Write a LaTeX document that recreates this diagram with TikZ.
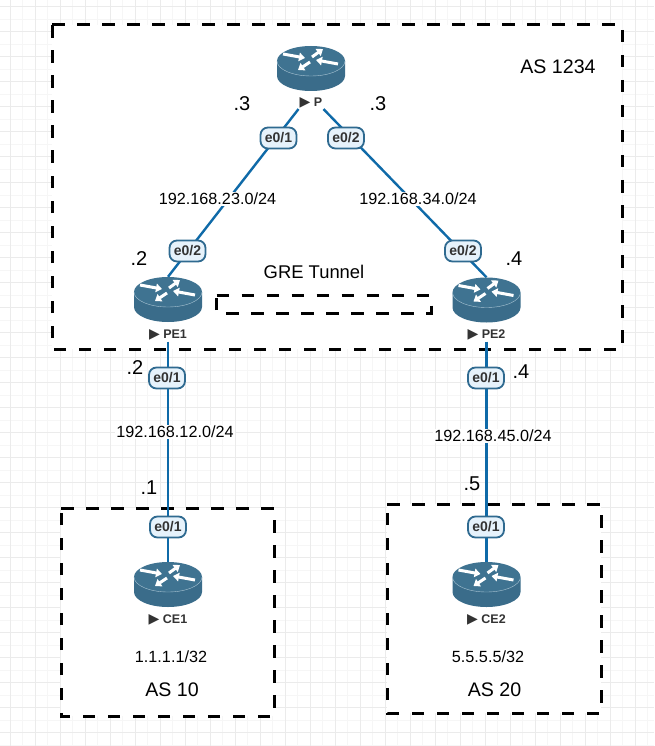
\documentclass[tikz,border=0pt]{standalone}
\usepackage{fontspec}
\setmainfont{Liberation Sans}
\newfontfamily\symfont{DejaVu Sans}
\usetikzlibrary{arrows.meta,backgrounds}
\definecolor{linkblue}{HTML}{0F6AA8}
\definecolor{routerblue}{HTML}{3F7391}
\definecolor{routerdark}{HTML}{3A6C8A}
\definecolor{routerrim}{HTML}{A9C4D3}
\definecolor{pillfill}{HTML}{E6F2FB}
\definecolor{pillline}{HTML}{2F6A90}
\definecolor{gridmajor}{HTML}{EBEBEB}
\definecolor{gridminor}{HTML}{F6F6F6}
\definecolor{labelgray}{HTML}{333333}
\newcommand{\routericon}[1]{%
  \begin{scope}[shift={(#1)}]
    \fill[routerdark] (-34,-8) -- (-34,7) arc[start angle=180,end angle=360,x radius=34pt,y radius=15pt] -- (34,-8) -- cycle;
    \fill[routerblue] (0,-8) ellipse [x radius=34pt, y radius=15pt];
    \draw[routerrim, thin] (-34,-8) arc[start angle=180,end angle=360,x radius=34pt,y radius=15pt];
    \draw[rarrow] (-28,-15)--(-6,-11);
    \draw[rarrow] (1,-12)--(12,-20);
    \draw[rarrow] (-1,-7)--(-13,1);
    \draw[rarrow] (27,-5)--(5,-9);
  \end{scope}}
\begin{document}
\begin{tikzpicture}[x=1pt,y=-1pt]
  \tikzstyle{router} = [minimum width=68pt, minimum height=46pt, inner sep=0pt]
  \tikzstyle{rlabel} = [font=\fontsize{12.5}{14}\bfseries\selectfont, text=labelgray, inner sep=1pt]
  \tikzstyle{rarrow} = [white, line width=3pt, -{Triangle[width=8.5pt,length=6pt]}]
  \tikzstyle{port} = [draw=pillline, line width=1.8pt, fill=pillfill, rounded corners=7.5pt, minimum width=36pt, minimum height=21pt, inner sep=0pt, text=labelgray, font=\fontsize{14}{15}\bfseries\selectfont]
  \tikzstyle{subnet} = [fill=white, inner sep=1.5pt, font=\fontsize{16.2}{18}\selectfont]
  \tikzstyle{addr} = [inner sep=1pt, font=\fontsize{20}{22}\selectfont]
  \tikzstyle{aslabel} = [inner sep=1pt, font=\fontsize{19.6}{22}\selectfont]
  \tikzstyle{link} = [linkblue, line width=2.4pt]
  \tikzstyle{asbox} = [black, fill=white, line width=3pt, dash pattern=on 12.5pt off 12.5pt]
  \tikzstyle{gmajor} = [gridmajor, line width=1pt]
  \tikzstyle{gminor} = [gridminor, line width=1pt]

  \useasboundingbox (0,0) rectangle (654,746);

  % routers
  \node[router] (P) at (311,69) {};
  \node[router] (PE1) at (168,300) {};
  \node[router] (PE2) at (486.5,300.5) {};
  \node[router] (CE1) at (168,585) {};
  \node[router] (CE2) at (486.5,585) {};

  \node[rlabel] (Plab) at (311,102.5) {{\symfont\fontsize{14}{14}\selectfont ▶} P};
  \node[rlabel] (PE1lab) at (168,335) {{\symfont\fontsize{14}{14}\selectfont ▶} PE1};
  \node[rlabel] (PE2lab) at (486.5,335) {{\symfont\fontsize{14}{14}\selectfont ▶} PE2};
  \node[rlabel] (CE1lab) at (168,620) {{\symfont\fontsize{14}{14}\selectfont ▶} CE1};
  \node[rlabel] (CE2lab) at (486.5,620) {{\symfont\fontsize{14}{14}\selectfont ▶} CE2};

  % interfaces
  \node[port] (Pe01) at (278.5,138) {e0/1};
  \node[port] (Pe02) at (346,138) {e0/2};
  \node[port] (PE1e02) at (187.5,251) {e0/2};
  \node[port] (PE2e02) at (463,251) {e0/2};
  \node[port] (PE1e01) at (167,378) {e0/1};
  \node[port] (PE2e01) at (486,378) {e0/1};
  \node[port] (CE1e01) at (168,527) {e0/1};
  \node[port] (CE2e01) at (486,527) {e0/1};

  % subnets
  \node[subnet] (net23) at (217.5,199) {192.168.23.0/24};
  \node[subnet] (net34) at (418,199) {192.168.34.0/24};
  \node[subnet] (net12) at (175,432) {192.168.12.0/24};
  \node[subnet] (net45) at (493,436) {192.168.45.0/24};

  % addresses
  \node[addr] (a3l) at (242,104) {.3};
  \node[addr] (a3r) at (378,104) {.3};
  \node[addr] (a2u) at (139,259) {.2};
  \node[addr] (a4u) at (514,259) {.4};
  \node[addr] (a2d) at (135,368) {.2};
  \node[addr] (a4d) at (521,372) {.4};
  \node[addr] (a1) at (149,488) {.1};
  \node[addr] (a5) at (472,484) {.5};

  \node[aslabel] (as1234) at (558,67) {AS 1234};
  \node[aslabel] (as10) at (172,690) {AS 10};
  \node[aslabel] (as20) at (494.5,690) {AS 20};
  \node[subnet, fill=none, font=\fontsize{18.4}{20}\selectfont] (gre) at (314,272) {GRE Tunnel};
  \node[subnet, fill=none] (lo1) at (171,657) {1.1.1.1/32};
  \node[subnet, fill=none] (lo5) at (488,657) {5.5.5.5/32};

  \begin{scope}[on background layer]
    \foreach \gx in {22.5,47.5,...,660} \draw[gminor] (\gx,0)--(\gx,746);
    \foreach \gy in {20,45,...,750} \draw[gminor] (0,\gy)--(654,\gy);
    \foreach \gx in {10,35,...,660} \draw[gmajor] (\gx,0)--(\gx,746);
    \foreach \gy in {7,32,...,750} \draw[gmajor] (0,\gy)--(654,\gy);

    \draw[asbox] (52,25)--(622,25)--(622,349)--(52,349)--cycle;
    \draw[asbox] (61,508)--(274,508)--(274,716)--(61,716)--cycle;
    \draw[asbox] (387,504)--(601,504)--(601,713)--(387,713)--cycle;
    \draw[asbox, fill=none] (216.5,295)--(431,295)--(431,313)--(216.5,313)--cycle;

    \draw[link] (Plab.south west)--(PE1.north);
    \draw[link] (Plab.south east)--(PE2.north);
    \draw[link] (PE1lab.south)--(CE1.north);
    \draw[link] (PE2lab.south)--(CE2.north);
  \end{scope}

  \routericon{P}
  \routericon{PE1}
  \routericon{PE2}
  \routericon{CE1}
  \routericon{CE2}
\end{tikzpicture}
\end{document}
